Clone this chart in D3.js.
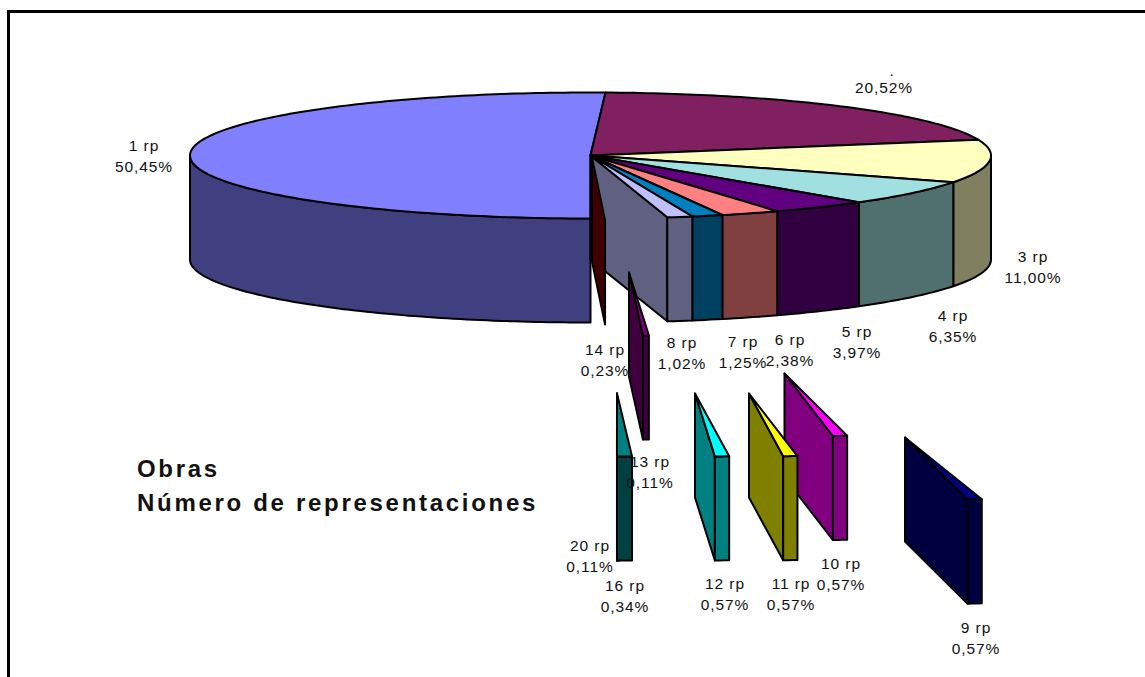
<!DOCTYPE html>
<html>
<head>
<meta charset="utf-8">
<script src="https://cdn.jsdelivr.net/npm/d3@7"></script>
<style>
  body { margin: 0; background: #fff; }
  text { font-family: "Liberation Sans", Arial, sans-serif; fill: #111; }
</style>
</head>
<body>
<svg width="1145" height="677"></svg>
<script>
const categories = ['1 rp', '2 rp', '3 rp', '4 rp', '5 rp', '6 rp', '7 rp', '8 rp',
  '9 rp', '10 rp', '11 rp', '12 rp', '13 rp', '14 rp', '16 rp', '20 rp'];
const shares = [50.45, 20.52, 11.00, 6.35, 3.97, 2.38, 1.25, 1.02,
  0.57, 0.57, 0.57, 0.57, 0.11, 0.23, 0.34, 0.11];
const shareLabels = ['50,45%', '20,52%', '11,00%', '6,35%', '3,97%', '2,38%', '1,25%', '1,02%',
  '0,57%', '0,57%', '0,57%', '0,57%', '0,11%', '0,23%', '0,34%', '0,11%'];
const titleLines = ['Obras', 'Número de representaciones'];

const colors = ['#8080ff', '#802060', '#ffffc0', '#a0e0e0', '#600080', '#ff8080', '#0080c0', '#c0c0ff',
  '#000080', '#ff00ff', '#ffff00', '#00ffff', '#800080', '#800000', '#008080', '#008080'];

// how far each slice was pulled out of the pie, px
const pullX = [0, 0, 0, 0, 0, 0, 0, 0, 314.5, 194, 158.5, 104.5, 38.5, 1.5, 26.5, 26.5];
const pullY = [0, 0, 0, 0, 0, 0, 0, 0, 282, 218, 238, 238, 117, 2, 238, 238];
// the tiniest slices are not drawn to true size in the original, degrees
const nudgeStart = { 1: 0.55, 13: 0.58, 14: -0.53 };
const nudgeEnd = { 0: 0.55, 12: 0.45, 13: -0.25, 14: 0.4 };

// first line of each label, the second sits one line lower
const labelX = [144, 892, 1033, 953, 857, 790, 743, 682, 976, 841, 791, 725, 650, 605, 625, 590];
const labelY = [151, 76, 262, 321, 337, 345, 347, 348, 633, 569, 589, 589, 467, 355, 591, 551];
const lineGap = 21;

const centerX = 590.5;
const centerY = 155.5;
const radiusX = 400.5;
const radiusY = 63;
const depth = 104;

const svg = d3.select('svg');

const x = d3.scaleLinear().domain([-1, 1]).range([centerX - radiusX, centerX + radiusX]);
const y = d3.scaleLinear().domain([-1, 1]).range([centerY - radiusY, centerY + radiusY]);

const toRad = d => d * Math.PI / 180;
const half = c => {
  const rgb = d3.rgb(c);
  return d3.rgb(rgb.r / 2, rgb.g / 2, rgb.b / 2).formatHex();
};

// clockwise from the bottom of the pie
const arcs = d3.pie().sort(null).startAngle(Math.PI).endAngle(3 * Math.PI)(shares);

const rimPoints = (a0, a1, drop) => {
  const steps = Math.max(1, Math.ceil((a1 - a0) / toRad(1)));
  return d3.range(steps + 1).map(k => {
    const a = a0 + (a1 - a0) * k / steps;
    return [x(Math.sin(a)), y(-Math.cos(a)) + drop];
  });
};
const line = d3.line();

const drawSlice = i => {
  const d = arcs[i];
  const a0 = d.startAngle + toRad(nudgeStart[i] || 0);
  const a1 = d.endAngle + toRad(nudgeEnd[i] || 0);
  const pulled = pullX[i] !== 0;
  const nextPulled = i + 1 < arcs.length && pullX[i + 1] !== 0;

  const g = svg.append('g')
    .attr('transform', `translate(${pullX[i]}, ${pullY[i]})`)
    .attr('stroke', '#000')
    .attr('stroke-width', 2)
    .attr('stroke-linejoin', 'round');

  const apex = [x(0), y(0)];

  // cut side, only where the neighbour has moved away
  if (pulled || nextPulled) {
    const edge = rimPoints(a1, a1, 0)[0];
    g.append('path')
      .attr('fill', half(colors[i]))
      .attr('d', line([apex, edge, [edge[0], edge[1] + depth], [apex[0], apex[1] + depth]]) + 'Z');
  }

  // outer wall, front half of the rim only
  [[Math.PI, 1.5 * Math.PI], [2.5 * Math.PI, 3 * Math.PI]].forEach(([lo, hi]) => {
    const w0 = Math.max(a0, lo);
    const w1 = Math.min(a1, hi);
    if (w1 - w0 < 1e-4) return;
    g.append('path')
      .attr('fill', half(colors[i]))
      .attr('d', line(rimPoints(w0, w1, 0).concat(rimPoints(w0, w1, depth).reverse())) + 'Z');
  });

  // top
  if (a1 - a0 > 1e-4) {
    g.append('path')
      .attr('fill', colors[i])
      .attr('d', line([apex].concat(rimPoints(a0, a1, 0))) + 'Z');
  }
};

// 20 rp goes under 16 rp, the rest in pie order
d3.range(categories.length)
  .sort((a, b) => (a === 15 ? 13.5 : a) - (b === 15 ? 13.5 : b))
  .forEach(i => drawSlice(i));

// frame, open on the right and at the bottom
svg.append('path')
  .attr('fill', 'none')
  .attr('stroke', '#000')
  .attr('stroke-width', 3)
  .attr('d', 'M8.5,677V11.5H1145');

const labels = svg.append('g')
  .attr('font-size', 15.5)
  .attr('letter-spacing', 0.9)
  .attr('text-anchor', 'middle');

categories.forEach((name, i) => {
  labels.append('text')
    .attr('x', labelX[i])
    .attr('y', labelY[i])
    .text(i === 1 ? '.' : name); // the 2 rp label is cut off in the original
  labels.append('text')
    .attr('x', i === 1 ? 884 : labelX[i])
    .attr('y', i === 1 ? 93 : labelY[i] + lineGap)
    .text(shareLabels[i]);
});

svg.append('g')
  .attr('font-size', 24)
  .attr('font-weight', 'bold')
  .attr('letter-spacing', 2.7)
  .selectAll('text')
  .data(titleLines)
  .join('text')
    .attr('x', 137)
    .attr('y', (d, i) => 477 + i * 34)
    .text(d => d);
</script>
</body>
</html>
